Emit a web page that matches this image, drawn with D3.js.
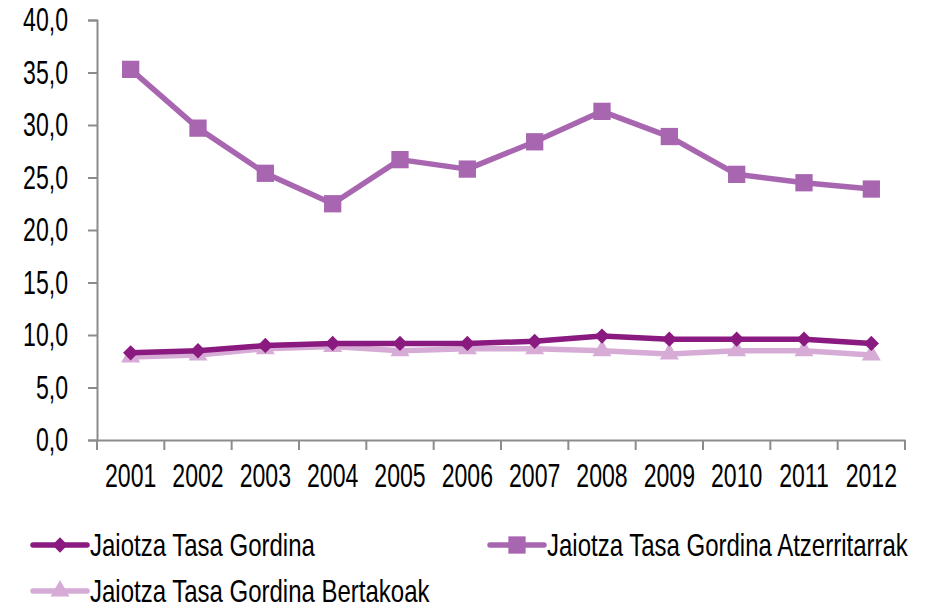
<!DOCTYPE html>
<html>
<head>
<meta charset="utf-8">
<script src="https://cdn.jsdelivr.net/npm/d3@7"></script>
<style>
  body { margin: 0; background: #fff; }
  text { font-family: "Liberation Sans", Arial, sans-serif; fill: #000; }
</style>
</head>
<body>
<svg id="chart" width="926" height="609"></svg>
<script>
// data
const years = ["2001","2002","2003","2004","2005","2006","2007","2008","2009","2010","2011","2012"];
const gordina = [8.3, 8.5, 9.0, 9.2, 9.2, 9.2, 9.4, 9.9, 9.6, 9.6, 9.6, 9.2];
const atzerritarrak = [35.3, 29.7, 25.4, 22.5, 26.7, 25.8, 28.4, 31.3, 28.9, 25.3, 24.5, 23.9];
const bertakoak = [7.9, 8.1, 8.7, 8.9, 8.5, 8.7, 8.7, 8.5, 8.2, 8.5, 8.5, 8.1];
const yTicks = [0, 5, 10, 15, 20, 25, 30, 35, 40];

const series = [
  { name: "Jaiotza Tasa Gordina", values: gordina, color: "#8a1a80", symbol: d3.symbolDiamond2, size: 150 },
  { name: "Jaiotza Tasa Gordina Atzerritarrak", values: atzerritarrak, color: "#a866b0", symbol: d3.symbolSquare2, size: 380 },
  { name: "Jaiotza Tasa Gordina Bertakoak", values: bertakoak, color: "#d6acd6", symbol: d3.symbolTriangle2, size: 260 }
];

var margin = { top: 20, left: 97, right: 21, bottom: 169 },
  width = 926 - margin.left - margin.right,
  height = 609 - margin.top - margin.bottom;

// the reference font is a narrow one, squeeze the glyphs horizontally
function narrow(sel, s) {
  sel.each(function () {
    var t = d3.select(this);
    var x0 = +t.attr("x") || 0;
    t.attr("x", x0 / s).attr("transform", "scale(" + s + ",1)");
  });
}

var svg = d3.select("#chart")
  .append("g")
  .attr("transform", "translate(" + margin.left + "," + margin.top + ")");

var x = d3.scaleBand().domain(years).range([0, width]);
var y = d3.scaleLinear().domain([0, 40]).range([height, 0]);

var fmt = d => d3.format(".1f")(d).replace(".", ",");

// y axis
var yAxis = svg.append("g")
  .call(d3.axisLeft(y).tickValues(yTicks).tickFormat(fmt).tickSize(9).tickPadding(20));
yAxis.selectAll("text").style("font-size", "33px").call(narrow, 0.70);

// x axis, ticks between categories
var xAxis = svg.append("g")
  .attr("transform", "translate(0," + height + ")")
  .call(d3.axisBottom(x).tickSize(0).tickPadding(24));
xAxis.selectAll("text").style("font-size", "33px").call(narrow, 0.70);
xAxis.selectAll(".tickmark")
  .data(d3.range(years.length + 1))
  .enter().append("line")
  .attr("x1", i => i * x.step()).attr("x2", i => i * x.step())
  .attr("y1", 0).attr("y2", 10);

svg.selectAll(".domain, .tick line, line").attr("stroke", "#8c8c8c").attr("stroke-width", 2);

var line = d3.line()
  .x((d, i) => x(years[i]) + x.bandwidth() / 2)
  .y(d => y(d));

// draw order: atzerritarrak, bertakoak, gordina
[series[1], series[2], series[0]].forEach(s => {
  svg.append("path")
    .datum(s.values)
    .attr("d", line)
    .attr("fill", "none")
    .attr("stroke", s.color)
    .attr("stroke-width", 5.5)
    .attr("stroke-linejoin", "round");
  svg.selectAll(null)
    .data(s.values)
    .enter().append("path")
    .attr("d", d3.symbol().type(s.symbol).size(s.size))
    .attr("transform", (d, i) => "translate(" + (x(years[i]) + x.bandwidth() / 2) + "," + y(d) + ")")
    .attr("fill", s.color);
});

// legend
var legendPos = [[33, 545], [490, 545], [33, 591]];
var legend = d3.select("#chart").selectAll(".legend")
  .data(series)
  .enter().append("g")
  .attr("class", "legend")
  .attr("transform", (d, i) => "translate(" + legendPos[i][0] + "," + legendPos[i][1] + ")");

legend.append("line")
  .attr("x1", 0).attr("x2", 54)
  .attr("stroke", d => d.color)
  .attr("stroke-width", 5.5)
  .attr("stroke-linecap", "round");
legend.append("path")
  .attr("d", d => d3.symbol().type(d.symbol).size(d.size)())
  .attr("transform", "translate(27,0)")
  .attr("fill", d => d.color);
legend.append("text")
  .attr("x", 57)
  .attr("dy", "0.35em")
  .style("font-size", "32px")
  .text(d => d.name)
  .call(narrow, 0.75);
</script>
</body>
</html>
